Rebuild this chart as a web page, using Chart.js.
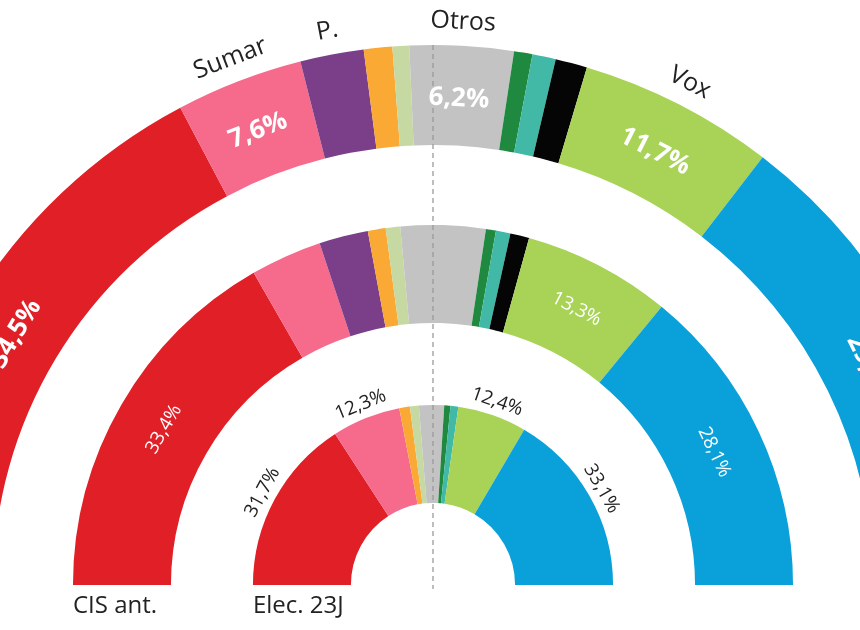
<!DOCTYPE html>
<html lang="es">
<head>
  <meta charset="UTF-8" />
  <meta name="viewport" content="width=device-width, initial-scale=1.0" />
  <title>Estimación de voto CIS</title>
  <script src="https://cdn.jsdelivr.net/npm/chart.js"></script>
  <style>
    html, body { margin: 0; padding: 0; background: #fff; width: 860px; height: 630px; overflow: hidden; }
    /* el hemiciclo exterior se sale del encuadre por los lados */
    #wrap { position: absolute; left: -107px; top: 0; width: 1080px; height: 630px; }
  </style>
</head>
<body>
  <div id="wrap"><canvas id="hemiciclo"></canvas></div>

  <script>
    const parties = ['PSOE', 'Sumar', 'Podemos', 'ERC', 'BNG', 'Otros', 'PNV', 'Bildu', 'SALF', 'Vox', 'PP'];
    const shortNames = ['PSOE', 'Sumar', 'P.', '', '', 'Otros', '', '', '', 'Vox', 'PP'];
    const partyColors = ['#e11f26', '#f66a8c', '#7b3f8a', '#f9a934', '#c6d9a2', '#c3c3c3',
                         '#1f8a3f', '#42b8a7', '#050505', '#a8d356', '#0aa0da'];

    // porcentajes de voto (de izquierda a derecha)
    const cisNuevo = [34.5, 7.6, 3.8, 1.7, 1.0, 6.2, 1.1, 1.4, 1.9, 11.7, 29.1];
    const cisAnt   = [33.4, 6.4, 4.4, 1.6, 1.3, 7.6, 0.9, 1.3, 1.7, 13.3, 28.1];
    const elec23J  = [31.7, 12.3, 0, 1.9, 1.6, 4.5, 1.1, 1.4, 0, 12.4, 33.1];

    const ringTitles = ['', 'CIS ant.', 'Elec. 23J'];

    const FONT = "'Open Sans', 'Noto Sans', sans-serif";
    const fmt = v => v.toFixed(1).replace('.', ',') + '%';

    function tangentText(ctx, cx, cy, angle, r, text, font, color) {
      ctx.save();
      ctx.translate(cx + Math.cos(angle) * r, cy + Math.sin(angle) * r);
      ctx.rotate(angle + Math.PI / 2);
      ctx.font = font;
      ctx.fillStyle = color;
      ctx.textAlign = 'center';
      ctx.textBaseline = 'middle';
      ctx.fillText(text, 0, 0);
      ctx.restore();
    }

    const hemiLabels = {
      id: 'hemiLabels',
      afterDatasetsDraw(chart) {
        const ctx = chart.ctx;
        const rings = chart.data.datasets
          .map((ds, i) => ({ ds, arcs: chart.getDatasetMeta(i).data }))
          .filter(r => !r.ds.spacer);
        const top = rings[0].arcs[0];
        const cx = top.x, cy = top.y;

        // linea discontinua central
        ctx.save();
        ctx.strokeStyle = '#9a9a9a';
        ctx.lineWidth = 1.3;
        ctx.setLineDash([5, 4]);
        ctx.beginPath();
        ctx.moveTo(cx, cy - top.outerRadius);
        ctx.lineTo(cx, cy + 4);
        ctx.stroke();
        ctx.restore();

        rings.forEach(({ ds, arcs }) => {
          arcs.forEach((arc, j) => {
            const mid = (arc.startAngle + arc.endAngle) / 2;
            if (ds.pctShow.includes(j)) {
              if (ds.pctStyle === 'bold') {
                tangentText(ctx, cx, cy, mid, (arc.innerRadius + arc.outerRadius) / 2 - 3,
                  fmt(ds.data[j]), 'bold 26px ' + FONT, '#fff');
              } else if (ds.pctStyle === 'normal') {
                tangentText(ctx, cx, cy, mid, (arc.innerRadius + arc.outerRadius) / 2,
                  fmt(ds.data[j]), '19px ' + FONT, '#fff');
              } else {
                tangentText(ctx, cx, cy, mid, arc.outerRadius + 14,
                  fmt(ds.data[j]), '19px ' + FONT, '#222');
              }
            }
            if (ds.showNames && shortNames[j]) {
              tangentText(ctx, cx, cy, mid, arc.outerRadius + 24, shortNames[j], '25px ' + FONT, '#222');
            }
          });
          if (ds.ringTitle) {
            ctx.save();
            ctx.font = '24px ' + FONT;
            ctx.fillStyle = '#222';
            ctx.textAlign = 'left';
            ctx.textBaseline = 'middle';
            ctx.fillText(ds.ringTitle, cx - arcs[0].outerRadius, cy + 21);
            ctx.restore();
          }
        });
      }
    };

    const spacer = w => ({ data: [1], backgroundColor: 'rgba(0,0,0,0)', weight: w, spacer: true });

    new Chart(document.getElementById('hemiciclo'), {
      type: 'doughnut',
      data: {
        labels: parties,
        datasets: [
          { data: cisNuevo, backgroundColor: partyColors, weight: 100, pctStyle: 'bold',
            pctShow: [0, 1, 5, 9, 10], showNames: true, ringTitle: ringTitles[0] },
          spacer(80),
          { data: cisAnt, backgroundColor: partyColors, weight: 98, pctStyle: 'normal',
            pctShow: [0, 9, 10], ringTitle: ringTitles[1] },
          spacer(82),
          { data: elec23J, backgroundColor: partyColors, weight: 98, pctStyle: 'outside',
            pctShow: [0, 1, 9, 10], ringTitle: ringTitles[2] }
        ]
      },
      options: {
        responsive: true,
        maintainAspectRatio: false,
        animation: false,
        rotation: -90,
        circumference: 180,
        cutout: '15.2%',
        borderWidth: 0,
        hoverBorderWidth: 0,
        offset: 0,
        hoverOffset: 0,
        layout: { padding: { top: 45, bottom: 45, left: 0, right: 0 } },
        events: [],
        plugins: {
          legend: { display: false },
          tooltip: { enabled: false }
        }
      },
      plugins: [hemiLabels]
    });
  </script>
</body>
</html>
